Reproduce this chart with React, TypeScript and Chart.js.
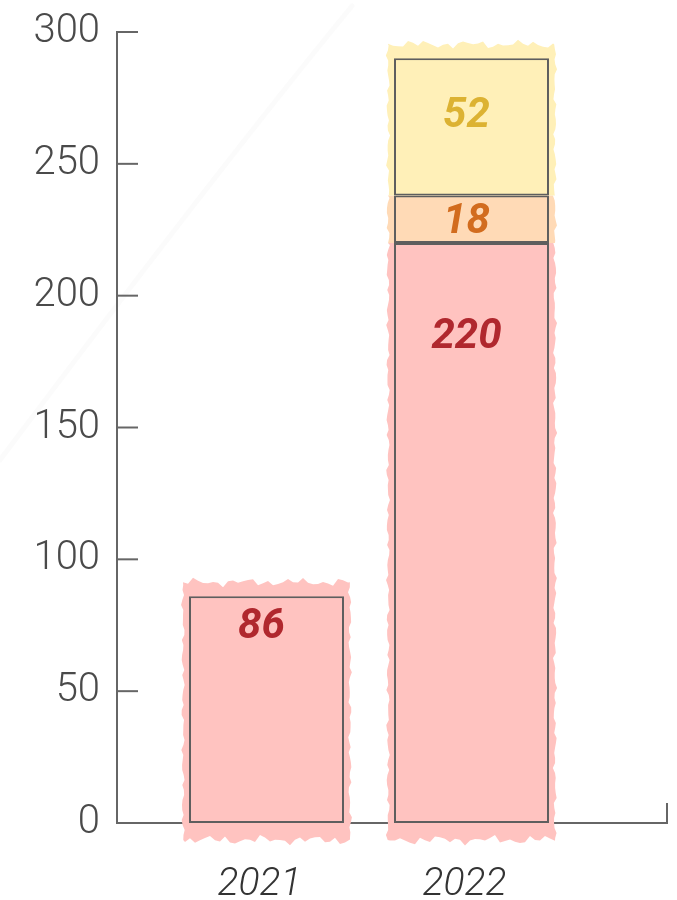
import React, { useEffect, useRef } from 'react';
import { Chart, registerables } from 'chart.js';

Chart.register(...registerables);

const categories = ['2021', '2022'];
const baseValues: (number | null)[] = [86, 220];
const midValues: (number | null)[] = [null, 18];
const topValues: (number | null)[] = [null, 52];
const yTickValues = [0, 50, 100, 150, 200, 250, 300];

const FILLS = ['#ffc3c0', '#ffdab6', '#fff0b8'];
const LABEL_COLORS = ['#b0282e', '#d26c1e', '#dcb232'];
const AXIS_COLOR = '#666666';
const BAR_BORDER = '#5e5e5e';

const LABEL_DY: Record<string, number> = { '0-0': 31, '0-1': 95, '1-1': 27, '2-1': 58 };

function wobble(k: number, seed: number) {
  return 1.6 * Math.sin(k * 1.73 + seed) + 1.2 * Math.sin(k * 0.61 + seed * 2.1) + 0.9 * Math.sin(k * 3.7 + seed * 0.7);
}

const sketchPlugin = {
  id: 'sketchFill',
  beforeDraw(chart: any) {
    const ctx = chart.ctx;
    ctx.save();
    ctx.strokeStyle = 'rgba(200,200,200,0.07)';
    ctx.lineWidth = 5;
    ctx.lineCap = 'round';
    ctx.beginPath();
    ctx.moveTo(352, 6);
    ctx.bezierCurveTo(250, 130, 120, 300, 0, 460);
    ctx.stroke();
    ctx.restore();
  },
  beforeDatasetsDraw(chart: any) {
    const ctx = chart.ctx;
    const datasets = chart.data.datasets;
    datasets.forEach((ds: any, di: number) => {
      const meta = chart.getDatasetMeta(di);
      meta.data.forEach((el: any, i: number) => {
        const raw = ds.data[i];
        if (!raw || raw.y == null) return;
        let isTop = true;
        for (let k = di + 1; k < datasets.length; k++) {
          const o = datasets[k].data[i];
          if (o && o.y != null) isTop = false;
        }
        const isBottom = di === 0;
        const p = el.getProps(['x', 'y', 'base', 'width'], true);
        const l = p.x - p.width / 2 - 6;
        const r = p.x + p.width / 2 + 6;
        const t = p.y - (isTop ? 14 : 0);
        const b = p.base + (isBottom ? 17 : 0);
        const seed = di * 3.1 + i * 1.7;
        ctx.save();
        ctx.fillStyle = FILLS[di];
        ctx.beginPath();
        const step = 5;
        ctx.moveTo(l, t);
        for (let xx = l; xx <= r; xx += step) {
          const dy = isTop ? wobble(xx / step, seed) * 1.4 : 0;
          ctx.lineTo(xx, t + dy);
        }
        for (let yy = t; yy <= b; yy += step) {
          ctx.lineTo(r + wobble(yy / step, seed + 1) * 0.6, yy);
        }
        for (let xx = r; xx >= l; xx -= step) {
          const dy = isBottom ? wobble(xx / step, seed + 2) * 1.6 : 0;
          ctx.lineTo(xx, b + dy);
        }
        for (let yy = b; yy >= t; yy -= step) {
          ctx.lineTo(l + wobble(yy / step, seed + 3) * 0.6, yy);
        }
        ctx.closePath();
        ctx.fill();
        ctx.restore();
      });
    });
  },
  afterDatasetsDraw(chart: any) {
    const ctx = chart.ctx;
    chart.data.datasets.forEach((ds: any, di: number) => {
      const meta = chart.getDatasetMeta(di);
      meta.data.forEach((el: any, i: number) => {
        const raw = ds.data[i];
        if (!raw || raw.y == null) return;
        const p = el.getProps(['x', 'y'], true);
        const dy = LABEL_DY[`${di}-${i}`] ?? 30;
        ctx.save();
        ctx.font = 'italic 700 42px Roboto';
        ctx.fillStyle = LABEL_COLORS[di];
        ctx.textAlign = 'center';
        ctx.textBaseline = 'middle';
        ctx.fillText(String(raw.y), p.x - 5, p.y + dy);
        ctx.restore();
      });
    });
  },
  afterDraw(chart: any) {
    const ctx = chart.ctx;
    const area = chart.chartArea;
    const yScale = chart.scales.y;
    ctx.save();
    ctx.strokeStyle = AXIS_COLOR;
    ctx.lineWidth = 2;
    yScale.ticks.forEach((t: any) => {
      if (t.value === 0) return;
      const py = yScale.getPixelForValue(t.value);
      ctx.beginPath();
      ctx.moveTo(area.left, py);
      ctx.lineTo(area.left + 21, py);
      ctx.stroke();
    });
    ctx.beginPath();
    ctx.moveTo(area.right, area.bottom);
    ctx.lineTo(area.right, area.bottom - 20);
    ctx.stroke();
    ctx.restore();
  },
};

export default function App() {
  const ref = useRef<HTMLCanvasElement | null>(null);

  useEffect(() => {
    if (!ref.current) return;
    const toPoints = (vals: (number | null)[]) =>
      categories.map((c, i) => ({ x: Number(c), y: vals[i] }));
    const years = categories.map((c) => Number(c));
    const chart = new Chart(ref.current, {
      type: 'bar',
      data: {
        datasets: [
          { label: 'base', data: toPoints(baseValues) as any, backgroundColor: FILLS[0] },
          { label: 'mid', data: toPoints(midValues) as any, backgroundColor: FILLS[1] },
          { label: 'top', data: toPoints(topValues) as any, backgroundColor: FILLS[2] },
        ],
      },
      options: {
        animation: false,
        responsive: false,
        devicePixelRatio: 1,
        layout: { padding: { top: 32, right: 10, left: 0, bottom: 0 } },
        plugins: { legend: { display: false }, tooltip: { enabled: false } },
        datasets: {
          bar: {
            borderColor: BAR_BORDER,
            borderWidth: 2,
            borderSkipped: false,
            categoryPercentage: 1,
            barPercentage: 0.756,
          },
        },
        scales: {
          x: {
            type: 'linear',
            stacked: true,
            offset: false,
            bounds: 'data',
            min: years[0] - 0.7293,
            max: years[0] + 1.9537,
            grid: { display: false, offset: false },
            border: { display: true, color: AXIS_COLOR, width: 2 },
            afterBuildTicks: (scale: any) => {
              scale.ticks = years.map((v) => ({ value: v }));
            },
            afterFit: (scale: any) => {
              scale.height = 77;
              scale.paddingLeft = 0;
              scale.paddingRight = 0;
            },
            ticks: {
              callback: (v: any) => String(v),
              font: { family: 'Roboto', size: 39, style: 'italic', weight: 300 },
              color: '#333333',
              padding: 31,
              labelOffset: -7,
              maxRotation: 0,
              autoSkip: false,
            },
          },
          y: {
            stacked: true,
            min: yTickValues[0],
            max: yTickValues[yTickValues.length - 1],
            grid: { display: false, drawTicks: false },
            border: { display: true, color: AXIS_COLOR, width: 2 },
            afterBuildTicks: (scale: any) => {
              scale.ticks = yTickValues.map((v) => ({ value: v }));
            },
            afterFit: (scale: any) => {
              scale.width = 117;
              scale.paddingTop = 0;
              scale.paddingBottom = 0;
            },
            ticks: {
              font: { family: 'Roboto', size: 40, weight: 300 },
              color: '#4a4a4a',
              padding: 17,
            },
          },
        },
      } as any,
      plugins: [sketchPlugin],
    });
    return () => chart.destroy();
  }, []);

  return (
    <div style={{ position: 'absolute', left: 0, top: 0, width: 677, height: 900, background: '#ffffff' }}>
      <canvas ref={ref} width={677} height={900} style={{ width: 677, height: 900, display: 'block' }} />
    </div>
  );
}
